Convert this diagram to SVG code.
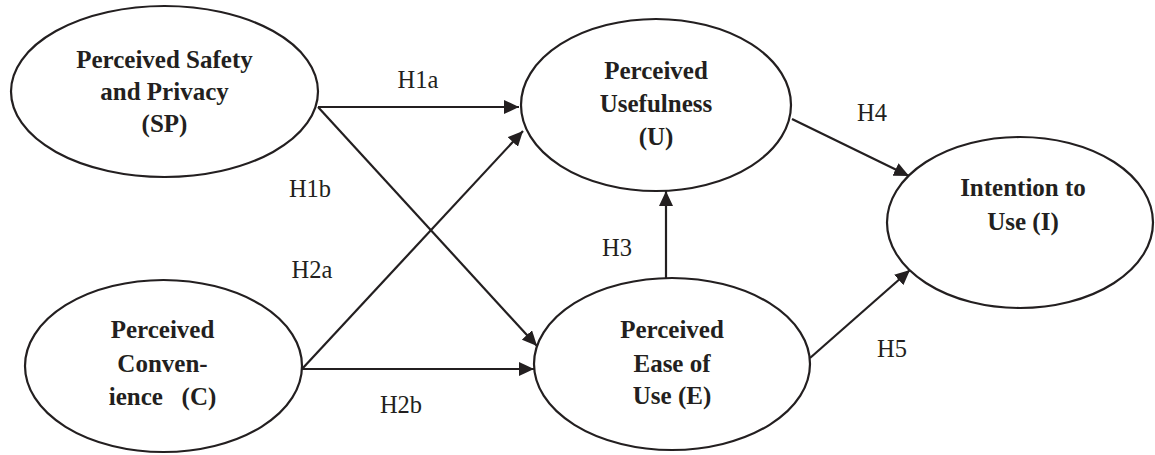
<svg xmlns="http://www.w3.org/2000/svg" width="1155" height="455" viewBox="0 0 1155 455">
<style>
.node ellipse{fill:#fff;stroke:#231f20;stroke-width:2.2}
.nt{font-family:"Liberation Serif","Times New Roman",serif;font-weight:bold;font-size:25px;fill:#231f20;text-anchor:middle;white-space:pre}
.lbl{font-family:"Liberation Serif","Times New Roman",serif;font-size:24.5px;fill:#231f20;text-anchor:middle}
.conn line{stroke:#231f20;stroke-width:2.2;fill:none}
</style>
<defs>
<marker id="ah" markerUnits="userSpaceOnUse" markerWidth="16" markerHeight="14" refX="15" refY="7" orient="auto">
<path d="M0,0 L15,7 L0,14 Z" fill="#231f20"/>
</marker>
</defs>
<rect width="1155" height="455" fill="#fff"/>
<g id="connectors" class="conn">
<line x1="318" y1="107" x2="519" y2="107" marker-end="url(#ah)"/>
<line x1="318" y1="107" x2="537" y2="346" marker-end="url(#ah)"/>
<line x1="302" y1="369" x2="523" y2="131" marker-end="url(#ah)"/>
<line x1="302" y1="369" x2="534" y2="369" marker-end="url(#ah)"/>
<line x1="666" y1="278" x2="666" y2="191" marker-end="url(#ah)"/>
<line x1="792" y1="119" x2="909" y2="176" marker-end="url(#ah)"/>
<line x1="810" y1="358" x2="910" y2="270" marker-end="url(#ah)"/>
</g>
<g id="labels">
<text class="lbl" x="418" y="88">H1a</text>
<text class="lbl" x="310" y="197">H1b</text>
<text class="lbl" x="312" y="278">H2a</text>
<text class="lbl" x="401" y="413">H2b</text>
<text class="lbl" x="617" y="256">H3</text>
<text class="lbl" x="872" y="121">H4</text>
<text class="lbl" x="892" y="357">H5</text>
</g>
<g id="node-sp" class="node">
<ellipse cx="164.5" cy="91.5" rx="153.5" ry="85.5"/>
<text class="nt" x="164.5" y="68">Perceived Safety</text>
<text class="nt" x="164.5" y="100">and Privacy</text>
<text class="nt" x="164.5" y="132">(SP)</text>
</g>
<g id="node-c" class="node">
<ellipse cx="163.5" cy="366" rx="138.5" ry="86"/>
<text class="nt" x="162.5" y="338">Perceived</text>
<text class="nt" x="162.5" y="372">Conven-</text>
<text class="nt" x="162.5" y="405">ience   (C)</text>
</g>
<g id="node-u" class="node">
<ellipse cx="656" cy="105" rx="135" ry="86"/>
<text class="nt" x="656" y="79">Perceived</text>
<text class="nt" x="656" y="112">Usefulness</text>
<text class="nt" x="656" y="145">(U)</text>
</g>
<g id="node-e" class="node">
<ellipse cx="672" cy="364" rx="138" ry="86"/>
<text class="nt" x="672" y="338">Perceived</text>
<text class="nt" x="672" y="372">Ease of</text>
<text class="nt" x="672" y="404">Use (E)</text>
</g>
<g id="node-i" class="node">
<ellipse cx="1020" cy="222.5" rx="133" ry="85.5"/>
<text class="nt" x="1023" y="196">Intention to</text>
<text class="nt" x="1023" y="230">Use (I)</text>
</g>
</svg>
